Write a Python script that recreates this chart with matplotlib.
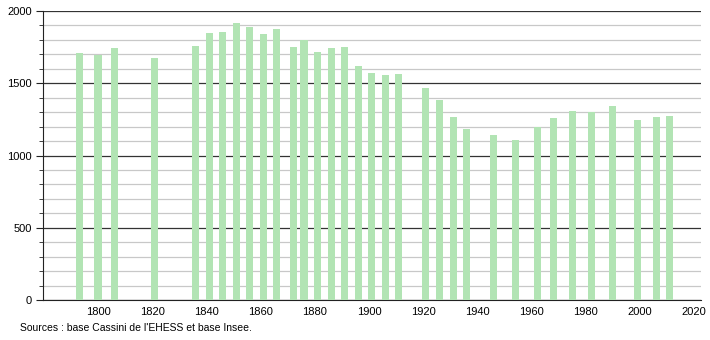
import matplotlib
matplotlib.use("Agg")
import matplotlib.pyplot as plt
from matplotlib.ticker import MultipleLocator

years = [1793, 1800, 1806, 1821, 1836, 1841, 1846, 1851, 1856, 1861, 1866,
         1872, 1876, 1881, 1886, 1891, 1896, 1901, 1906, 1911, 1921, 1926,
         1931, 1936, 1946, 1954, 1962, 1968, 1975, 1982, 1990, 1999, 2006, 2011]
population = [1709, 1698, 1742, 1672, 1758, 1845, 1855, 1915, 1889, 1841, 1873,
              1749, 1802, 1714, 1742, 1749, 1619, 1569, 1555, 1564, 1465, 1384,
              1264, 1183, 1142, 1107, 1195, 1259, 1308, 1299, 1343, 1246, 1264, 1273]
x_ticks = [1800, 1820, 1840, 1860, 1880, 1900, 1920, 1940, 1960, 1980, 2000, 2020]
source = "Sources : base Cassini de l'EHESS et base Insee."

plt.rcParams["font.family"] = ["Liberation Sans", "DejaVu Sans"]

fig = plt.figure(figsize=(7.1, 3.4), dpi=100)
ax = fig.add_axes([43 / 710, 1 - 300 / 340, (701 - 43) / 710, (300 - 11) / 340])

ax.bar(years, population, width=2.6, color="#b2e4b4", zorder=3)

ax.set_xlim(1779.7, 2022.5)
ax.set_ylim(0, 2000)
ax.set_xticks(x_ticks)
ax.yaxis.set_major_locator(MultipleLocator(500))
ax.yaxis.set_minor_locator(MultipleLocator(100))

ax.grid(axis="y", which="major", color="#333333", linewidth=0.9, zorder=1)
ax.grid(axis="y", which="minor", color="#c8c8c8", linewidth=0.9, zorder=1)

for side in ["top", "right"]:
    ax.spines[side].set_visible(False)
ax.spines["left"].set_color("#222222")
ax.spines["bottom"].set_color("#222222")

ax.tick_params(axis="x", length=0, labelsize=8, pad=5)
ax.tick_params(axis="y", which="major", length=5, labelsize=8, pad=3, color="#222222")
ax.tick_params(axis="y", which="minor", length=3, color="#222222")

fig.text(20 / 710, 1 - 328 / 340, source, fontsize=7.5, va="center", ha="left")

fig.savefig("out.png", dpi=100)
